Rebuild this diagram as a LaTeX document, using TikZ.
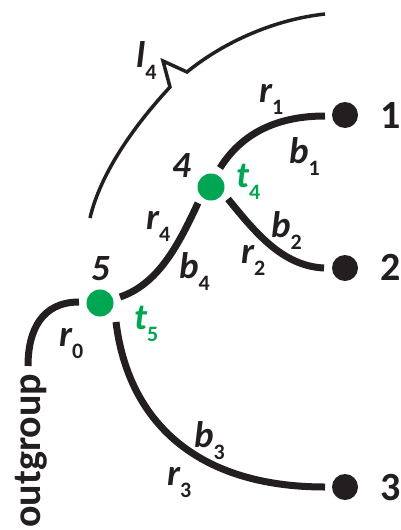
\documentclass[tikz,border=0pt]{standalone}
\usepackage{fontspec}
\setmainfont{Carlito}
\definecolor{grn}{HTML}{00A651}
\definecolor{ink}{HTML}{231F20}
\newcommand\lb[2]{\textbf{\textit{#1}}\raisebox{-12pt}{\fontsize{22}{22}\selectfont\upshape\bfseries #2}}
\tikzset{
  edge/.style={line width=7pt, draw=ink},
  arcline/.style={line width=3.5pt, draw=ink, line join=miter},
  leaf/.style={circle, fill=ink, minimum size=26pt, inner sep=0pt},
  inner/.style={circle, fill=grn, minimum size=27pt, inner sep=0pt},
  lab/.style={anchor=base west, inner sep=0pt, text=ink, font=\fontsize{37}{37}\selectfont\bfseries\itshape},
  glab/.style={lab, text=grn},
  num/.style={anchor=base west, inner sep=0pt, text=ink, font=\fontsize{40}{40}\selectfont\bfseries},
}
\begin{document}
\begin{tikzpicture}[x=1pt,y=-1pt]
\useasboundingbox (0,0) rectangle (400,530);
% nodes
\node[inner] (n4) at (211,187) {};
\node[inner] (n5) at (100,303) {};
\node[leaf] (l1) at (345,115) {};
\node[leaf] (l2) at (345,268) {};
\node[leaf] (l3) at (345,487) {};
% gap coordinates
\coordinate (e1s) at (220,168);
\coordinate (e1e) at (325,116);
\coordinate (e2s) at (228,199);
\coordinate (e2e) at (324,268);
\coordinate (e4s) at (120,297);
\coordinate (e4e) at (198,203);
\coordinate (e3s) at (116,322);
\coordinate (e3e) at (325,487);
\coordinate (e0s) at (79,302);
\coordinate (e0e) at (28,366);
% edges
\draw[edge] (e1s) .. controls (245,128) and (285,116) .. (e1e);
\draw[edge] (e2s) .. controls (255,232) and (282,266) .. (e2e);
\draw[edge] (e4s) .. controls (158,284) and (178,246) .. (e4e);
\draw[edge] (e3s) .. controls (128,420) and (195,487) .. (e3e);
\draw[edge] (e0s) .. controls (42,302) and (28,330) .. (e0e);
% arc l4
\coordinate (a0) at (325,14);
\coordinate (a1) at (187,72);
\coordinate (a2) at (163,61);
\coordinate (a3) at (170,87);
\coordinate (a4) at (90,218);
\draw[arcline] (a0) .. controls (270,20) and (220,45) .. (a1) -- (a2) -- (a3) .. controls (132,128) and (100,175) .. (a4);
% labels
\node[lab] (tl4) at (136,67) {\lb{l}{4}};
\node[lab] (tr1) at (259,102) {\lb{r}{1}};
\node[lab] (tb1) at (289,163) {\lb{b}{1}};
\node[lab] (t4) at (172,177) {4};
\node[glab] (tt4) at (236,187) {\lb{t}{4}};
\node[lab] (tr4) at (146,229) {\lb{r}{4}};
\node[lab] (tb4) at (179,278) {\lb{b}{4}};
\node[lab] (tb2) at (271,237) {\lb{b}{2}};
\node[lab] (tr2) at (241,263) {\lb{r}{2}};
\node[lab] (t5) at (91,280) {5};
\node[glab] (tt5) at (134,329) {\lb{t}{5}};
\node[lab] (tr0) at (59,346) {\lb{r}{0}};
\node[lab] (tb3) at (194,447) {\lb{b}{3}};
\node[lab] (tr3) at (167,485) {\lb{r}{3}};
\node[num] (d1) at (380,128) {1};
\node[num] (d2) at (380,280) {2};
\node[num] (d3) at (380,500) {3};
\node[num, rotate=90] (og) at (40,528) {outgroup};
\end{tikzpicture}
\end{document}
